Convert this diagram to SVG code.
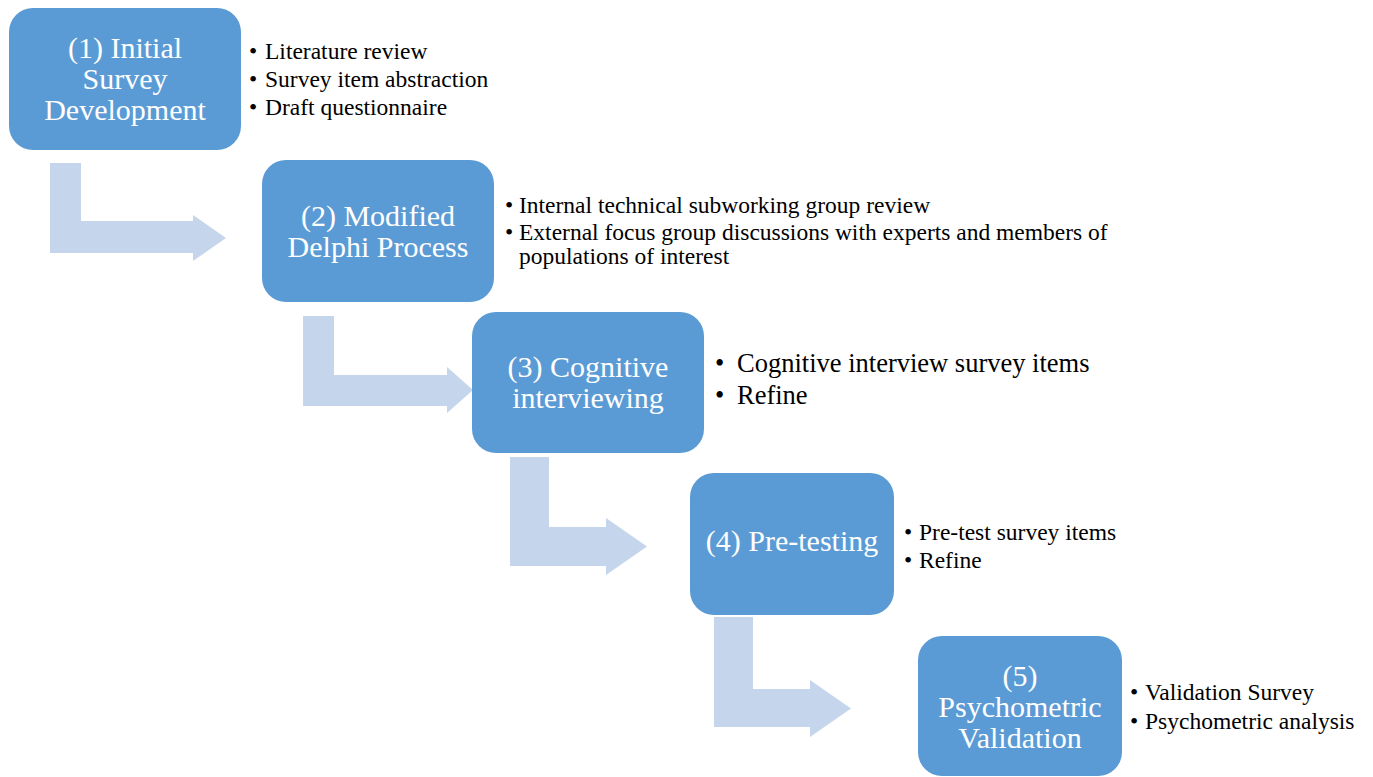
<svg xmlns="http://www.w3.org/2000/svg" width="1373" height="777" viewBox="0 0 1373 777">
<style>
.box{fill:#5B9BD5;}
.arr{fill:#C5D6EC;}
.lbl{font-family:"Liberation Serif","Times New Roman",serif;font-size:30px;fill:#FFFFFF;text-anchor:middle;}
.bul{font-family:"Liberation Serif","Times New Roman",serif;font-size:23.5px;fill:#000000;}
.bul3{font-family:"Liberation Serif","Times New Roman",serif;font-size:26.5px;fill:#000000;}
</style>
<rect width="1373" height="777" fill="#FFFFFF"/>
<g id="connectors">
<path class="arr" d="M50,163 H81 V221 H193 V215 L226,238 L193,261 V253 H50 Z"/>
<path class="arr" d="M303,316 H334 V375 H447 V367 L473,390 L447,413 V406 H303 Z"/>
<path class="arr" d="M510,457 H549 V527 H606 V518 L647,546.5 L606,575 V566 H510 Z"/>
<path class="arr" d="M714,617 H753 V689 H810 V680 L851,708.5 L810,737 V727 H714 Z"/>
</g>
<g id="node1">
<rect class="box" x="9" y="8" width="232" height="142" rx="24"/>
<text class="lbl"><tspan x="125" y="58">(1) Initial</tspan><tspan x="125" y="89">Survey</tspan><tspan x="125" y="120">Development</tspan></text>
<text class="bul"><tspan x="249" y="59">•</tspan><tspan x="265" y="59">Literature review</tspan></text>
<text class="bul"><tspan x="249" y="87">•</tspan><tspan x="265" y="87">Survey item abstraction</tspan></text>
<text class="bul"><tspan x="249" y="115">•</tspan><tspan x="265" y="115">Draft questionnaire</tspan></text>
</g>
<g id="node2">
<rect class="box" x="262" y="160" width="232" height="142" rx="24"/>
<text class="lbl"><tspan x="378" y="226">(2) Modified</tspan><tspan x="378" y="257">Delphi Process</tspan></text>
<text class="bul"><tspan x="505" y="213">•</tspan><tspan x="519" y="213">Internal technical subworking group review</tspan></text>
<text class="bul"><tspan x="505" y="240">•</tspan><tspan x="519" y="240">External focus group discussions with experts and members of</tspan><tspan x="519" y="264">populations of interest</tspan></text>
</g>
<g id="node3">
<rect class="box" x="472" y="312" width="232" height="141" rx="24"/>
<text class="lbl"><tspan x="588" y="377">(3) Cognitive</tspan><tspan x="588" y="408">interviewing</tspan></text>
<text class="bul3"><tspan x="715" y="372">•</tspan><tspan x="737" y="372">Cognitive interview survey items</tspan></text>
<text class="bul3"><tspan x="715" y="404">•</tspan><tspan x="737" y="404">Refine</tspan></text>
</g>
<g id="node4">
<rect class="box" x="690" y="473" width="204" height="142" rx="24"/>
<text class="lbl" x="792" y="551">(4) Pre-testing</text>
<text class="bul"><tspan x="904" y="540">•</tspan><tspan x="919" y="540">Pre-test survey items</tspan></text>
<text class="bul"><tspan x="904" y="568">•</tspan><tspan x="919" y="568">Refine</tspan></text>
</g>
<g id="node5">
<rect class="box" x="918" y="636" width="204" height="140" rx="24"/>
<text class="lbl"><tspan x="1020" y="686">(5)</tspan><tspan x="1020" y="717">Psychometric</tspan><tspan x="1020" y="748">Validation</tspan></text>
<text class="bul"><tspan x="1130" y="700">•</tspan><tspan x="1145" y="700">Validation Survey</tspan></text>
<text class="bul"><tspan x="1130" y="729">•</tspan><tspan x="1145" y="729">Psychometric analysis</tspan></text>
</g>
</svg>
